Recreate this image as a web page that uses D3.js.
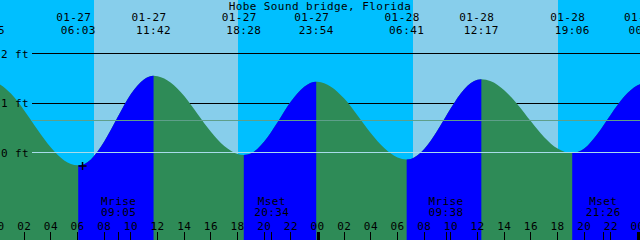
<!DOCTYPE html>
<html>
<head>
  <meta charset="utf-8">
  <title>Hobe Sound bridge, Florida</title>
  <script src="https://d3js.org/d3.v7.min.js"></script>
  <style>
    body { margin: 0; background: #fff; }
    svg { display: block; }
    text { font-family: "DejaVu Sans Mono", monospace; font-size: 11px; letter-spacing: 0.4px; fill: #000; }
  </style>
</head>
<body>
<svg width="640" height="240"></svg>
<script>
var title = "Hobe Sound bridge, Florida"

// window shown on the graph (48 h)
var windowStart = "01-27 00:11"
var windowEnd = "01-29 00:11"

// high / low tides
var extremeTimes = ["01-26 23:15", "01-27 06:03", "01-27 11:42", "01-27 18:28", "01-27 23:54",
                    "01-28 06:41", "01-28 12:17", "01-28 19:06", "01-29 00:38"]
var extremeFeet = [1.45, -0.26, 1.55, -0.05, 1.43, -0.14, 1.48, -0.01, 1.40]

// water level read every hour from 01-27 00:00 to 01-29 00:00
var firstHour = "01-27 00:00"
var hourlyFeet = [1.40, 1.19, 0.85, 0.46, 0.10, -0.16, -0.26, -0.14, 0.22, 0.71, 1.18, 1.48,
                  1.54, 1.41, 1.14, 0.78, 0.42, 0.13, -0.03, -0.02, 0.22, 0.61, 1.03, 1.33,
                  1.43, 1.33, 1.09, 0.75, 0.39, 0.09, -0.10, -0.13, 0.07, 0.45, 0.90, 1.28,
                  1.47, 1.44, 1.26, 0.97, 0.63, 0.31, 0.08, -0.01, 0.08, 0.38, 0.77, 1.13,
                  1.36]

// sunrise, sunset, sunrise, sunset
var sunTimes = ["01-27 07:14", "01-27 18:02", "01-28 07:10", "01-28 18:02"]

var moonTimes = ["01-27 09:05", "01-27 20:34", "01-28 09:38", "01-28 21:26"]
var moonLabels = ["Mrise", "Mset", "Mrise", "Mset"]

var levelTicks = [0, 1, 2]
var mslFeet = 0.65
var markTime = "01-27 06:18"
var markFeet = -0.27

var parse = d3.timeParse("%Y-%m-%d %H:%M")
function when(s) { return parse("2025-" + s) }

var width = 640, height = 240
var svg = d3.select("svg")

var x = d3.scaleTime().domain([when(windowStart), when(windowEnd)]).range([0, width])
var y = d3.scaleLinear().domain([0, 2]).range([152.5, 53.5])

// sky bands: night before first sunrise, then alternating
var edges = [when(windowStart)].concat(sunTimes.map(when), [when(windowEnd)])
svg.append("g").selectAll("rect")
  .data(d3.pairs(edges))
  .enter().append("rect")
    .attr("x", function (d) { return x(d[0]) })
    .attr("width", function (d) { return x(d[1]) - x(d[0]) })
    .attr("y", 0)
    .attr("height", height)
    .attr("fill", function (d, i) { return i % 2 == 0 ? "#00BFFF" : "#87CEEB" })
    .attr("shape-rendering", "crispEdges")

// level lines behind the water
svg.append("g").selectAll("line")
  .data(levelTicks.filter(function (v) { return v != 0 }))
  .enter().append("line")
    .attr("x1", 32).attr("x2", width)
    .attr("y1", function (v) { return Math.floor(y(v)) + 0.5 })
    .attr("y2", function (v) { return Math.floor(y(v)) + 0.5 })
    .attr("stroke", "#000")

// water
var hourly = hourlyFeet.map(function (f, i) {
  return { t: d3.timeHour.offset(when(firstHour), i), f: f }
})
var extremes = extremeTimes.map(function (s, i) { return { s: s, t: when(s), f: extremeFeet[i] } })
var points = hourly.concat(extremes).sort(function (a, b) { return a.t - b.t })

var area = d3.area()
  .x(function (d) { return x(d.t) })
  .y0(height)
  .y1(function (d) { return y(d.f) })
  .curve(d3.curveMonotoneX)

var rising = d3.pairs(extremes).filter(function (p) { return p[1].f > p[0].f })
svg.append("clipPath").attr("id", "rise")
  .selectAll("rect")
  .data(rising)
  .enter().append("rect")
    .attr("x", function (p) { return x(p[0].t) })
    .attr("width", function (p) { return x(p[1].t) - x(p[0].t) })
    .attr("y", 0).attr("height", height)

svg.append("path").datum(points).attr("d", area).attr("fill", "#2E8B57")
svg.append("path").datum(points).attr("d", area).attr("fill", "#0000FF").attr("clip-path", "url(#rise)")

// mean sea level and datum
svg.append("line")
  .attr("x1", 32).attr("x2", width)
  .attr("y1", Math.floor(y(mslFeet)) + 0.5).attr("y2", Math.floor(y(mslFeet)) + 0.5)
  .attr("stroke", "#5E9F8A")
svg.append("line")
  .attr("x1", 32).attr("x2", width)
  .attr("y1", Math.floor(y(0)) + 0.5).attr("y2", Math.floor(y(0)) + 0.5)
  .attr("stroke", "#A8DCEB")

// level labels
svg.append("g").selectAll("text")
  .data(levelTicks)
  .enter().append("text")
    .attr("x", 1)
    .attr("y", function (v) { return y(v) + 4 })
    .text(function (v) { return v + " ft" })

// title
svg.append("text")
  .attr("x", width / 2).attr("y", 9.5)
  .attr("text-anchor", "middle")
  .text(title)

// tide labels
var tl = svg.append("g").attr("text-anchor", "middle")
tl.selectAll(".date")
  .data(extremes)
  .enter().append("text")
    .attr("x", function (d) { return x(d.t) - 4.5 })
    .attr("y", 21)
    .text(function (d) { return d.s.slice(0, 5) })
tl.selectAll(".time")
  .data(extremes)
  .enter().append("text")
    .attr("x", function (d) { return x(d.t) })
    .attr("y", 33.5)
    .text(function (d) { return d.s.slice(6) })

// now marker
var mx = Math.round(x(when(markTime))) + 0.5
var my = Math.round(y(markFeet))
svg.append("path")
  .attr("d", "M" + (mx - 4) + "," + my + "H" + (mx + 4) + "M" + mx + "," + (my - 4) + "V" + (my + 4))
  .attr("stroke", "#000").attr("stroke-width", 1.5)

// hour ticks
var hours = d3.timeHour.range(when(firstHour), d3.timeHour.offset(when(windowEnd), 1), 2)
var fmtHour = d3.timeFormat("%H")
var ticks = svg.append("g")
ticks.selectAll("text")
  .data(hours)
  .enter().append("text")
    .attr("x", function (d) { return x(d) })
    .attr("y", 230)
    .attr("text-anchor", "middle")
    .text(fmtHour)
ticks.selectAll("rect")
  .data(hours)
  .enter().append("rect")
    .attr("x", function (d) { return d.getHours() == 0 ? Math.floor(x(d)) : Math.floor(x(d)) })
    .attr("width", function (d) { return d.getHours() == 0 ? 3 : 1 })
    .attr("y", 232).attr("height", 8)
    .attr("fill", "#000")
    .attr("shape-rendering", "crispEdges")

// moon rise / set
var moon = svg.append("g").attr("text-anchor", "middle")
moonTimes.forEach(function (s, i) {
  var mxx = x(when(s))
  moon.append("text").attr("x", mxx).attr("y", 205).text(moonLabels[i])
  moon.append("text").attr("x", mxx).attr("y", 216).text(s.slice(6))
  moon.append("rect").attr("x", Math.floor(mxx)).attr("width", 1)
    .attr("y", 232).attr("height", 8).attr("fill", "#000")
    .attr("shape-rendering", "crispEdges")
})
</script>
</body>
</html>
